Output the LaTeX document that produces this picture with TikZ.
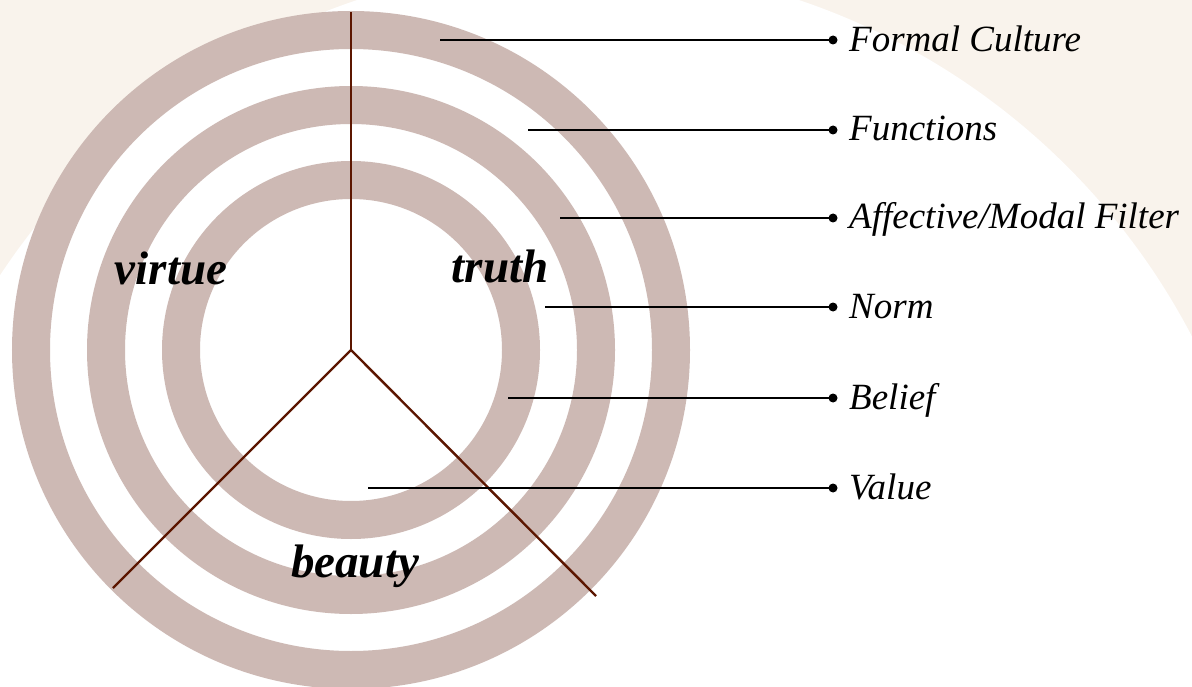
\documentclass[tikz,border=0pt]{standalone}
\usepackage{fontspec}
\setmainfont{Liberation Serif}
\definecolor{bgbeige}{RGB}{249,243,236}
\definecolor{ringcol}{RGB}{205,185,180}
\definecolor{spoke}{RGB}{92,22,0}
\tikzset{
  ringstyle/.style={draw=ringcol, line width=38pt},
  spokestyle/.style={draw=spoke, line width=2.4pt},
  leader/.style={draw=black, line width=2.6pt},
  dotend/.style={circle, fill=black, inner sep=0pt, minimum size=9pt},
  lbl/.style={anchor=base west, inner sep=0pt, font=\fontsize{37}{44}\selectfont\itshape},
  sector/.style={anchor=base, inner sep=0pt, font=\fontsize{47}{54}\selectfont\bfseries\itshape}
}
\begin{document}
\begin{tikzpicture}[x=1pt,y=-1pt]
\useasboundingbox (0,0) rectangle (1192,687);
\clip (0,0) rectangle (1192,687);
\fill[bgbeige] (0,0) rectangle (1192,687);
\fill[white] (578,656) circle[radius=692pt];
% rings
\coordinate (c) at (351,350);
\draw[ringstyle] (c) circle[radius=320pt];
\draw[ringstyle] (c) circle[radius=245pt];
\draw[ringstyle] (c) circle[radius=170pt];
% spokes
\coordinate (top) at (351,12);
\coordinate (bl) at (113,588);
\coordinate (br) at (596,596);
\draw[spokestyle] (c) -- (top);
\draw[spokestyle] (c) -- (bl);
\draw[spokestyle] (c) -- (br);
% leaders
\coordinate (s1) at (440,40);
\coordinate (s2) at (528,130);
\coordinate (s3) at (560,218);
\coordinate (s4) at (545,307);
\coordinate (s5) at (508,398);
\coordinate (s6) at (368,488);
\node[dotend] (d1) at (833,40) {};
\node[dotend] (d2) at (833,130) {};
\node[dotend] (d3) at (833,218) {};
\node[dotend] (d4) at (833,307) {};
\node[dotend] (d5) at (833,398) {};
\node[dotend] (d6) at (833,488) {};
\draw[leader] (s1) -- (d1.center);
\draw[leader] (s2) -- (d2.center);
\draw[leader] (s3) -- (d3.center);
\draw[leader] (s4) -- (d4.center);
\draw[leader] (s5) -- (d5.center);
\draw[leader] (s6) -- (d6.center);
\node[lbl] (l1) at (849,52) {Formal Culture};
\node[lbl] (l2) at (849,141) {Functions};
\node[lbl] (l3) at (849,229) {Affective/Modal Filter};
\node[lbl] (l4) at (849,319) {Norm};
\node[lbl] (l5) at (849,409) {Belief};
\node[lbl] (l6) at (849,499) {Value};
% sector words
\node[sector] (virtue) at (171,285) {virtue};
\node[sector] (truth) at (500,283) {truth};
\node[sector] (beauty) at (355,577) {beauty};
\end{tikzpicture}
\end{document}
